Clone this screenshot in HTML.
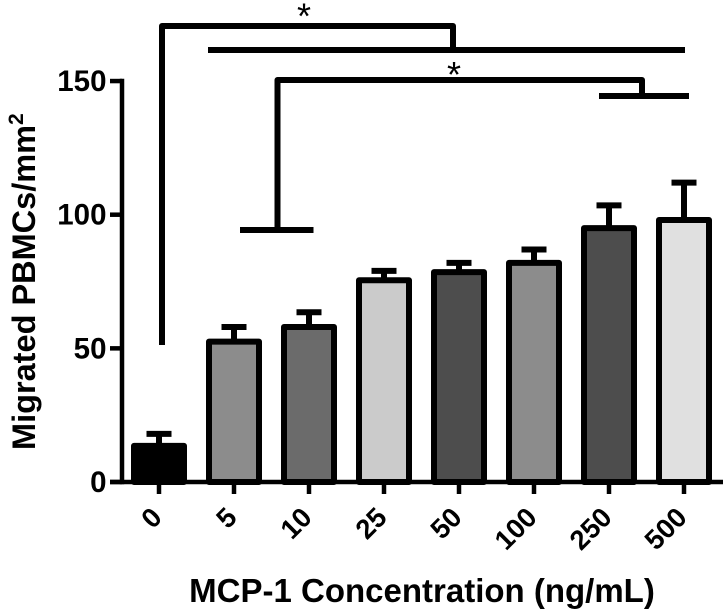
<!DOCTYPE html>
<html lang="en">
<head>
<meta charset="utf-8">
<title>Migrated PBMCs by MCP-1 concentration</title>
<style>
  html, body { margin: 0; padding: 0; background: #fff; }
  svg { display: block; }
  text { font-family: "Liberation Sans", sans-serif; font-weight: bold; fill: #000; }
</style>
</head>
<body>
<svg id="chart" width="726" height="613" viewBox="0 0 726 613" xmlns="http://www.w3.org/2000/svg">
  <rect width="726" height="613" fill="#fff"/>
  <g id="bars"></g>
  <g id="axes"></g>
  <text transform="translate(35,450) rotate(-90)" font-size="32.5">Migrated PBMCs/mm<tspan dy="-12" font-size="21">2</tspan></text>
  <text x="422" y="602" font-size="33" text-anchor="middle">MCP-1 Concentration (ng/mL)</text>
  <g fill="none" stroke="#000" stroke-width="6">
    <path d="M162 345V26H453V50" stroke-linejoin="round"/>
    <path d="M208 50H685"/>
    <path d="M277.500 230V80H642V96" stroke-linejoin="round"/>
    <path d="M240 230H313.500"/>
    <path d="M599 96H689"/>
  </g>
  <text x="304" y="28.500" font-size="36" text-anchor="middle" style="font-weight:normal">*</text>
  <text x="454" y="87" font-size="36" text-anchor="middle" style="font-weight:normal">*</text>
</svg>
<script>
const categories = ['0', '5', '10', '25', '50', '100', '250', '500'];
const means = [13.5, 52.5, 58, 75.5, 78.5, 82, 95, 98];
const upperErrors = [4.5, 5.5, 5.5, 3.5, 3.5, 5, 8.5, 14];
const barFills = ['#000000', '#8c8c8c', '#6b6b6b', '#cbcbcb', '#4d4d4d', '#8c8c8c', '#4d4d4d', '#e0e0e0'];
const yTicks = [0, 50, 100, 150];

const NS = 'http://www.w3.org/2000/svg';
const baselineY = 482;
const pxPerUnit = 2.673;
const firstCenter = 159;
const bandStep = 75;
const barWidth = 50;
const capWidth = 25;

function yScale(v) { return baselineY - v * pxPerUnit; }
function xScale(i) { return firstCenter + i * bandStep; }
function make(tag, attrs, parent) {
  const el = document.createElementNS(NS, tag);
  for (const k in attrs) el.setAttribute(k, attrs[k]);
  parent.appendChild(el);
  return el;
}

const barsGroup = document.getElementById('bars');
const axesGroup = document.getElementById('axes');

categories.forEach(function (cat, i) {
  const cx = xScale(i);
  const top = yScale(means[i]);
  const capY = yScale(means[i] + upperErrors[i]);

  const stem = make('line', { x1: cx, x2: cx, y1: top, y2: capY, stroke: '#000', 'stroke-width': 6 }, barsGroup);
  
  

  const cap = make('line', { x1: cx - capWidth / 2, x2: cx + capWidth / 2, y1: capY, y2: capY, stroke: '#000', 'stroke-width': 6 }, barsGroup);
  
  

  const bar = make('rect', {
    x: cx - barWidth / 2, y: top, width: barWidth, height: baselineY - top,
    fill: barFills[i], stroke: '#000', 'stroke-width': 6, 'stroke-linejoin': 'round'
  }, barsGroup);
  
  

  const tick = make('line', { x1: cx, x2: cx, y1: baselineY, y2: 494, stroke: '#000', 'stroke-width': 4.5 }, axesGroup);
  
  

  const label = make('text', {
    'font-size': 27.5, 'text-anchor': 'end',
    transform: 'translate(' + (cx + 4.5) + ',519) rotate(-45)'
  }, axesGroup);
  label.textContent = cat;
  
  
});

yTicks.forEach(function (v) {
  const y = yScale(v);
  const tick = make('line', { x1: 110, x2: 122, y1: y, y2: y, stroke: '#000', 'stroke-width': 4.5 }, axesGroup);
  
  

  const label = make('text', { x: 106.5, y: y + 10, 'font-size': 29.5, 'text-anchor': 'end' }, axesGroup);
  label.textContent = v;
  
  
});

const yAxis = make('line', { x1: 122, x2: 122, y1: yScale(150) - 2.25, y2: baselineY + 2.25, stroke: '#000', 'stroke-width': 4.5 }, axesGroup);



const xAxis = make('line', { x1: 110, x2: 723, y1: baselineY, y2: baselineY, stroke: '#000', 'stroke-width': 4.5 }, axesGroup);


</script>
</body>
</html>
